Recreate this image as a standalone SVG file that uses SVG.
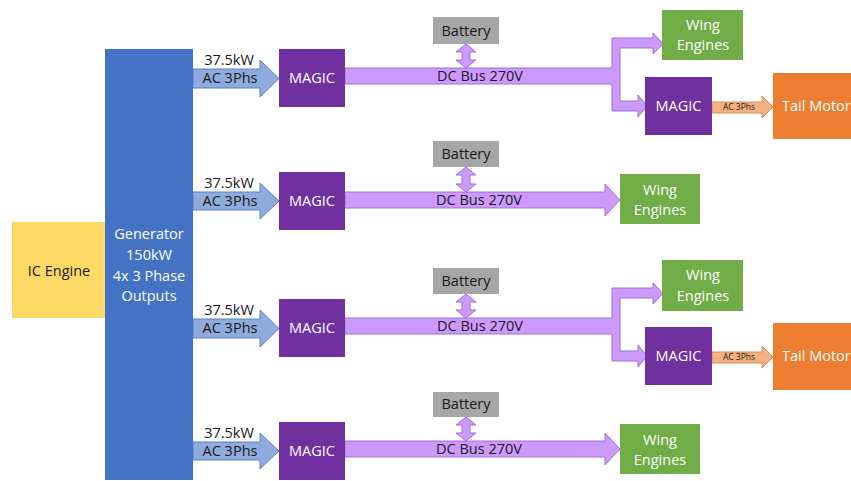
<svg xmlns="http://www.w3.org/2000/svg" width="851" height="481" viewBox="0 0 851 481">
<style>
text{font-family:"Open Sans","Noto Sans","Liberation Sans",sans-serif;font-size:14.5px;text-anchor:middle}
.w{fill:#ffffff}
.k{fill:#1a1a1a}
.magic{fill:#7030A0}
.gen{fill:#4472C4}
.ice{fill:#FFD966}
.bat{fill:#A6A6A6}
.wing{fill:#70AD47}
.tail{fill:#ED7D31}
.ac{fill:#8FAADC;stroke:#5B82C8;stroke-width:1}
.bus{fill:#CC99FF;stroke:#A070D0;stroke-width:1}
.ot{fill:#F4B183;stroke:#E08A50;stroke-width:1}
.sm{font-size:8.5px}
</style>
<rect width="851" height="481" fill="#ffffff"/>
<g id="connectors">
  <polygon class="ac" points="193,69 260,69 260,60 279,78.5 260,97 260,88 193,88"/>
  <polygon class="ac" points="193,192 260,192 260,183 279,201 260,219 260,210 193,210"/>
  <polygon class="ac" points="193,319 260,319 260,310 279,328.5 260,347 260,338 193,338"/>
  <polygon class="ac" points="193,442 260,442 260,433 279,451 260,469 260,460 193,460"/>
  <path class="bus" d="M345,68 H612 V38 H653 V33 L663,43.5 L653,54 V48 H620 V101 H638 V95 L647,106 L638,117 V111 H612 V84 H345 Z"/>
  <path class="bus" d="M345,192 H605 V184 L620,200 L605,216 V208 H345 Z"/>
  <path class="bus" d="M345,318 H612 V288 H653 V283 L663,293.5 L653,304 V298 H620 V351 H638 V345 L647,356 L638,367 V361 H612 V334 H345 Z"/>
  <path class="bus" d="M345,441 H605 V433 L620,449 L605,465 V457 H345 Z"/>
  <polygon class="bus" points="466,44 476,52 470,52 470,60 476,60 466,68 456,60 462,60 462,52 456,52"/>
  <polygon class="bus" points="466,167 476,175 470,175 470,184 476,184 466,192 456,184 462,184 462,175 456,175"/>
  <polygon class="bus" points="466,294 476,302 470,302 470,310 476,310 466,318 456,310 462,310 462,302 456,302"/>
  <polygon class="bus" points="466,417 476,425 470,425 470,433 476,433 466,441 456,433 462,433 462,425 456,425"/>
  <polygon class="ot" points="712,102 762,102 762,96 773,107 762,118 762,113 712,113"/>
  <polygon class="ot" points="712,352 762,352 762,346 773,357 762,368 762,363 712,363"/>
  <text class="k" x="229" y="65">37.5kW</text>
  <text class="k" x="230" y="83">AC 3Phs</text>
  <text class="k" x="229" y="188">37.5kW</text>
  <text class="k" x="230" y="206">AC 3Phs</text>
  <text class="k" x="229" y="315">37.5kW</text>
  <text class="k" x="230" y="333">AC 3Phs</text>
  <text class="k" x="229" y="438">37.5kW</text>
  <text class="k" x="230" y="456">AC 3Phs</text>
  <text class="k" x="480" y="81">DC Bus 270V</text>
  <text class="k" x="479" y="205">DC Bus 270V</text>
  <text class="k" x="480" y="331">DC Bus 270V</text>
  <text class="k" x="479" y="454">DC Bus 270V</text>
  <text class="k sm" x="739" y="110">AC 3Phs</text>
  <text class="k sm" x="739" y="360">AC 3Phs</text>
</g>
<g id="ic-engine">
  <rect class="ice" x="12" y="222" width="93" height="96"/>
  <text class="k" x="59" y="276">IC Engine</text>
</g>
<g id="generator">
  <rect class="gen" x="105" y="49" width="88" height="431"/>
  <text class="w" x="149" y="239">Generator</text>
  <text class="w" x="149" y="260">150kW</text>
  <text class="w" x="149" y="281">4x 3 Phase</text>
  <text class="w" x="149" y="301">Outputs</text>
</g>
<g id="magic-1">
  <rect class="magic" x="279" y="49" width="66" height="58"/>
  <text class="w" x="312" y="83">MAGIC</text>
</g>
<g id="magic-2">
  <rect class="magic" x="279" y="172" width="66" height="58"/>
  <text class="w" x="312" y="206">MAGIC</text>
</g>
<g id="magic-3">
  <rect class="magic" x="279" y="299" width="66" height="58"/>
  <text class="w" x="312" y="333">MAGIC</text>
</g>
<g id="magic-4">
  <rect class="magic" x="279" y="422" width="66" height="58"/>
  <text class="w" x="312" y="456">MAGIC</text>
</g>
<g id="battery-1">
  <rect class="bat" x="433" y="17" width="66" height="27"/>
  <text class="k" x="466" y="36">Battery</text>
</g>
<g id="battery-2">
  <rect class="bat" x="433" y="141" width="66" height="26"/>
  <text class="k" x="466" y="159">Battery</text>
</g>
<g id="battery-3">
  <rect class="bat" x="433" y="268" width="66" height="26"/>
  <text class="k" x="466" y="286">Battery</text>
</g>
<g id="battery-4">
  <rect class="bat" x="433" y="392" width="66" height="25"/>
  <text class="k" x="466" y="409">Battery</text>
</g>
<g id="wing-engines-1">
  <rect class="wing" x="662" y="10" width="81" height="50"/>
  <text class="w" x="703" y="30">Wing</text>
  <text class="w" x="703" y="50">Engines</text>
</g>
<g id="wing-engines-2">
  <rect class="wing" x="620" y="174" width="80" height="50"/>
  <text class="w" x="660" y="195">Wing</text>
  <text class="w" x="660" y="215">Engines</text>
</g>
<g id="wing-engines-3">
  <rect class="wing" x="662" y="260" width="81" height="51"/>
  <text class="w" x="703" y="280">Wing</text>
  <text class="w" x="703" y="301">Engines</text>
</g>
<g id="wing-engines-4">
  <rect class="wing" x="620" y="424" width="80" height="50"/>
  <text class="w" x="660" y="445">Wing</text>
  <text class="w" x="660" y="465">Engines</text>
</g>
<g id="magic-tail-1">
  <rect class="magic" x="645" y="77" width="67" height="58"/>
  <text class="w" x="678.5" y="111">MAGIC</text>
</g>
<g id="magic-tail-2">
  <rect class="magic" x="645" y="327" width="67" height="58"/>
  <text class="w" x="678.5" y="361">MAGIC</text>
</g>
<g id="tail-motor-1">
  <rect class="tail" x="773" y="73" width="80" height="66"/>
  <text class="w" x="782" y="111" style="text-anchor:start">Tail Motor</text>
</g>
<g id="tail-motor-2">
  <rect class="tail" x="773" y="323" width="80" height="67"/>
  <text class="w" x="782" y="361" style="text-anchor:start">Tail Motor</text>
</g>
</svg>
